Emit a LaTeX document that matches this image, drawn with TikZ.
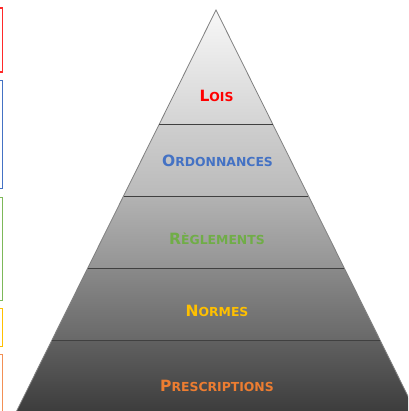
\documentclass[tikz,border=0pt]{standalone}
\usepackage{fontspec}
\setmainfont{DejaVu Sans}
\definecolor{cred}{HTML}{FF0000}
\definecolor{cblue}{HTML}{4472C4}
\definecolor{cgreen}{HTML}{70AD47}
\definecolor{cgold}{HTML}{FFC000}
\definecolor{corange}{HTML}{ED7D31}
\definecolor{bred}{HTML}{FF2A2A}
\definecolor{bblue}{HTML}{4472C4}
\definecolor{bgreen}{HTML}{7DB859}
\definecolor{bgold}{HTML}{FFC000}
\definecolor{borange}{HTML}{F29055}
\newcommand\mysc[2]{{\fontsize{15.5}{15.5}\selectfont #1}{\fontsize{12.4}{12.4}\selectfont #2}}
\begin{document}
\begin{tikzpicture}[x=1pt,y=-1pt,
  lbl/.style={font=\bfseries, inner sep=0pt, anchor=base},
  sep/.style={draw=black!75, line width=0.9pt},
  sidebox/.style={line width=1.3pt}]
\useasboundingbox (0,0) rectangle (408,411);
\fill[white] (0,0) rectangle (408,411);
\clip (0,0) rectangle (408,411);
% bands
\shade[top color=black!3, bottom color=black!17] (216,10) -- (272.7,124) -- (159.3,124) -- cycle;
\shade[top color=black!19, bottom color=black!27] (159.3,124) -- (272.7,124) -- (308.4,196) -- (123.6,196) -- cycle;
\shade[top color=black!30, bottom color=black!42] (123.6,196) -- (308.4,196) -- (344.2,268) -- (87.8,268) -- cycle;
\shade[top color=black!46, bottom color=black!59] (87.8,268) -- (344.2,268) -- (380,340) -- (52,340) -- cycle;
\shade[top color=black!62, bottom color=black!78] (52,340) -- (380,340) -- (419.8,420) -- (12.2,420) -- cycle;
% outline
\draw[black!50, line width=0.8pt, line join=miter] (12.2,420) -- (216,10) -- (419.8,420);
% separators
\draw[sep] (159.3,124) -- (272.7,124);
\draw[sep] (123.6,196) -- (308.4,196);
\draw[sep] (87.8,268) -- (344.2,268);
\draw[sep] (52,340) -- (380,340);
% labels
\node[lbl, text=cred] (lois) at (216.5,102) {\mysc{L}{OIS}};
\node[lbl, text=cblue] (ord) at (217.5,167) {\mysc{O}{RDONNANCES}};
\node[lbl, text=cgreen] (reg) at (217,244) {\mysc{R}{ÈGLEMENTS}};
\node[lbl, text=cgold] (nor) at (217,316) {\mysc{N}{ORMES}};
\node[lbl, text=corange] (pre) at (217,391) {\mysc{P}{RESCRIPTIONS}};
% side boxes
\draw[sidebox, bred] (-10,8) rectangle (2.5,72);
\draw[sidebox, bblue] (-10,80.5) rectangle (2.5,188.5);
\draw[sidebox, bgreen] (-10,197.5) rectangle (2.5,300.5);
\draw[sidebox, bgold] (-10,308.5) rectangle (2.5,346.5);
\draw[sidebox, borange] (-10,354.5) rectangle (2.5,420);
\end{tikzpicture}
\end{document}
